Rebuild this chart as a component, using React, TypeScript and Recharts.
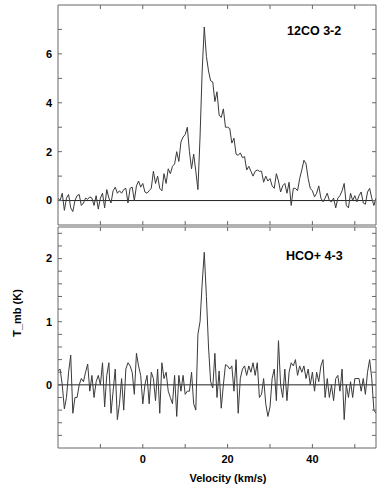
// Two stacked spectra (12CO 3-2 and HCO+ 4-3) on a shared velocity axis
import React from "react";
import { LineChart, Line, XAxis, YAxis, ReferenceLine } from "recharts";

// velocity channels (km/s)
const velocity = [
  -20, -19.5, -19, -18.5, -18, -17.5, -17, -16.5, -16, -15.5, -15, -14.5, -14, -13.5, -13, -12.5,
  -12, -11.5, -11, -10.5, -10, -9.5, -9, -8.5, -8, -7.5, -7, -6.5, -6, -5.5, -5, -4.5,
  -4, -3.5, -3, -2.5, -2, -1.5, -1, -0.5, 0, 0.5, 1, 1.5, 2, 2.5, 3, 3.5,
  4, 4.5, 5, 5.5, 6, 6.5, 7, 7.5, 8, 8.5, 9, 9.5, 10, 10.5, 11, 11.5,
  12, 12.5, 13, 13.5, 14, 14.5, 15, 15.5, 16, 16.5, 17, 17.5, 18, 18.5, 19, 19.5,
  20, 20.5, 21, 21.5, 22, 22.5, 23, 23.5, 24, 24.5, 25, 25.5, 26, 26.5, 27, 27.5,
  28, 28.5, 29, 29.5, 30, 30.5, 31, 31.5, 32, 32.5, 33, 33.5, 34, 34.5, 35, 35.5,
  36, 36.5, 37, 37.5, 38, 38.5, 39, 39.5, 40, 40.5, 41, 41.5, 42, 42.5, 43, 43.5,
  44, 44.5, 45, 45.5, 46, 46.5, 47, 47.5, 48, 48.5, 49, 49.5, 50, 50.5, 51, 51.5,
  52, 52.5, 53, 53.5, 54, 54.5, 55,
];

// 12CO 3-2 main-beam temperature (K)
const co32 = [
  0.1, 0.0, 0.3, -0.4, 0.1, 0.25, -0.3, -0.45, 0.0, 0.2, 0.25, -0.2, -0.1, 0.1, 0.05, 0.15,
  0.1, -0.2, 0.2, -0.35, 0.1, 0.3, -0.3, 0.45, 0.1, -0.1, 0.4, 0.55, 0.3, 0.4, 0.3, 0.45,
  0.5, -0.1, 0.5, 0.55, 0.0, 0.6, 0.8, 0.55, 0.7, 0.35, 0.3, 0.4, 0.5, 1.2, 0.7, 1.0,
  0.5, 0.4, 1.1, 0.7, 1.3, 1.1, 1.4, 1.5, 2.0, 1.6, 2.4, 2.6, 2.7, 3.0, 2.0, 1.3,
  1.9, 1.2, 0.45, 2.6, 5.3, 7.1, 5.9, 5.3, 4.9, 4.85, 4.05, 4.45, 3.5, 3.4, 3.75, 3.0,
  3.0, 2.95, 2.35, 2.55, 1.9, 1.85, 1.95, 1.75, 1.8, 1.25, 1.4, 1.2, 1.0, 1.2, 1.25, 1.2,
  1.2, 0.75, 1.0, 0.8, 0.9, 0.6, 0.5, 1.1, 0.8, 0.35, 0.6, 0.7, 0.3, 0.75, -0.2, 0.5,
  0.5, 0.4, 0.9, 1.25, 1.65, 1.5, 0.9, 0.5, 0.4, 0.15, 0.3, 0.6, 0.1, -0.05, 0.1, 0.3,
  0.0, -0.05, 0.1, -0.3, 0.1, 0.2, 0.4, 0.7, -0.2, -0.3, 0.3, 0.0, 0.2, -0.05, 0.2, 0.35,
  -0.1, -0.15, 0.35, 0.5, 0.1, -0.2, 0.1,
];

// HCO+ 4-3 main-beam temperature (K)
const hco43 = [
  0.22, 0.25, 0.0, -0.38, -0.2, 0.2, 0.47, -0.45, -0.2, -0.2, 0.0, 0.1, 0.05, 0.2, 0.33, -0.1,
  0.15, -0.2, 0.05, 0.15, 0.0, 0.35, -0.35, 0.15, 0.35, -0.45, -0.1, 0.25, -0.55, -0.3, 0.1, -0.4,
  0.25, 0.35, 0.3, 0.2, -0.15, 0.5, 0.3, 0.15, -0.3, 0.0, 0.15, -0.3, 0.2, 0.1, -0.25, 0.25,
  -0.45, 0.35, 0.1, 0.2, -0.1, -0.2, -0.3, 0.15, -0.5, 0.15, -0.1, 0.15, -0.15, -0.1, -0.1, 0.2,
  -0.3, -0.4, 0.8, 1.0, 1.6, 2.1, 1.4, 0.6, 0.05, -0.05, 0.5, -0.2, 0.22, -0.37, 0.0, 0.32,
  0.3, 0.25, 0.3, -0.1, 0.4, -0.45, 0.1, 0.25, 0.3, 0.15, 0.3, 0.2, 0.35, 0.15, 0.35, -0.2,
  -0.15, 0.1, -0.3, -0.5, -0.35, 0.1, 0.25, -0.25, 0.7, 0.0, -0.2, 0.25, -0.25, 0.2, 0.35, 0.3,
  0.4, 0.15, 0.3, 0.2, 0.3, 0.1, 0.25, 0.0, 0.2, -0.1, 0.2, 0.05, 0.3, 0.4, -0.2, 0.1,
  -0.2, 0.0, -0.25, 0.1, 0.15, -0.1, 0.25, -0.55, 0.0, -0.2, 0.05, -0.2, 0.1, 0.1, 0.1, -0.1,
  0.1, -0.15, 0.2, 0.4, 0.1, -0.4, -0.45,
];

const xTicks = [-10, 0, 10, 20, 30, 40, 50];
const xLabels = [0, 20, 40];
const coTicks = [0, 1, 2, 3, 4, 5, 6, 7];
const coLabels = [0, 2, 4, 6];
const hcoTicks = [-0.8, -0.6, -0.4, -0.2, 0, 0.2, 0.4, 0.6, 0.8, 1, 1.2, 1.4, 1.6, 1.8, 2, 2.2, 2.4];
const hcoLabels = [0, 1, 2];

const coData = velocity.map((v, i) => ({ v, t: co32[i] }));
const hcoData = velocity.map((v, i) => ({ v, t: hco43[i] }));

const font = '"Liberation Sans", Arial, Helvetica, sans-serif';
const frame = "#666";
const tickStyle = { fill: "#000", fontSize: 11, fontWeight: "bold", fontFamily: font };

const pick = (list: number[]) => (t: number) =>
  list.some(l => Math.abs(l - t) < 1e-6) ? String(t) : "";
const blank = () => "";

function Panel({ data, domain, yTicks, yLabels, width, height, margin, showX }: any) {
  return (
    <LineChart width={width} height={height} data={data} margin={margin}>
      <XAxis
        xAxisId="b"
        dataKey="v"
        type="number"
        domain={[-20, 55]}
        ticks={xTicks}
        height={showX ? 30 : 1}
        tickSize={-4}
        tickMargin={11}
        stroke={frame}
        tick={tickStyle}
        tickFormatter={showX ? pick(xLabels) : blank}
        allowDataOverflow
      />
      <XAxis
        xAxisId="t"
        dataKey="v"
        type="number"
        orientation="top"
        domain={[-20, 55]}
        ticks={xTicks}
        height={1}
        tickSize={-4}
        stroke={frame}
        tickFormatter={blank}
        allowDataOverflow
      />
      <YAxis
        yAxisId="l"
        type="number"
        domain={domain}
        ticks={yTicks}
        width={58}
        tickSize={-4}
        tickMargin={10}
        stroke={frame}
        tick={tickStyle}
        tickFormatter={pick(yLabels)}
        allowDataOverflow
      />
      <YAxis
        yAxisId="r"
        type="number"
        orientation="right"
        domain={domain}
        ticks={yTicks}
        width={1}
        tickSize={-4}
        stroke={frame}
        tickFormatter={blank}
        allowDataOverflow
      />
      <ReferenceLine xAxisId="b" yAxisId="l" y={0} stroke="#222" strokeWidth={1} />
      <Line
        xAxisId="b"
        yAxisId="l"
        type="linear"
        dataKey="t"
        stroke="#3a3a3a"
        strokeWidth={1}
        dot={false}
        isAnimationActive={false}
      />
    </LineChart>
  );
}

export default function App() {
  const title = { position: "absolute" as const, fontFamily: font, fontWeight: "bold", fontSize: 12.5, lineHeight: 1, color: "#000", whiteSpace: "nowrap" as const };
  return (
    <div style={{ position: "fixed", left: 0, top: 0, width: 382, height: 492, background: "#fff" }}>
      <div style={{ position: "absolute", left: 0, top: 0 }}>
        <Panel
          data={coData}
          domain={[-1, 8]}
          yTicks={coTicks}
          yLabels={coLabels}
          width={382}
          height={226}
          margin={{ top: 4, right: 5, bottom: 0, left: 0 }}
          showX={false}
        />
      </div>
      <div style={{ position: "absolute", left: 0, top: 221 }}>
        <Panel
          data={hcoData}
          domain={[-1, 2.5]}
          yTicks={hcoTicks}
          yLabels={hcoLabels}
          width={382}
          height={271}
          margin={{ top: 5, right: 5, bottom: 14, left: 0 }}
          showX={true}
        />
      </div>
      <div style={{ ...title, left: 287, top: 24.5 }}>12CO 3-2</div>
      <div style={{ ...title, left: 286, top: 250 }}>HCO+ 4-3</div>
      <div style={{ ...title, fontSize: 11, left: 178, width: 100, textAlign: "center", top: 472.5 }}>Velocity (km/s)</div>
      <div
        style={{
          ...title,
          fontSize: 11,
          left: 17,
          top: 313,
          transform: "translate(-50%, -50%) rotate(-90deg)",
        }}
      >
        T_mb (K)
      </div>
    </div>
  );
}
